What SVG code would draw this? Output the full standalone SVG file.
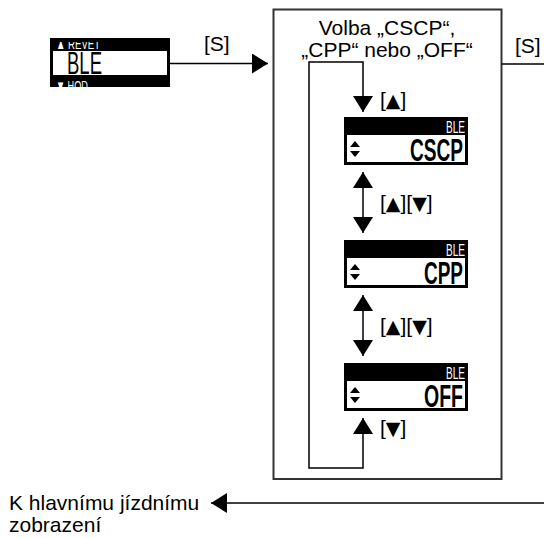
<svg xmlns="http://www.w3.org/2000/svg" width="544" height="538" viewBox="0 0 544 538">
<style>
.t{font-family:"Liberation Sans","DejaVu Sans",sans-serif;font-size:21px;fill:#000}
.s{font-family:"DejaVu Sans",sans-serif;font-size:19px}
.lcd{font-family:"Liberation Sans","DejaVu Sans",sans-serif;fill:#000}
.w{fill:#fff}
.ln{fill:none;stroke:#000;stroke-width:1.5}
.box{fill:#fff;stroke:#333;stroke-width:2}
</style>
<defs>
<marker id="ah" viewBox="0 0 16 20" refX="16" refY="10" markerWidth="16" markerHeight="20" markerUnits="userSpaceOnUse" orient="auto-start-reverse">
<path d="M0,0 L16,10 L0,20 z" fill="#000"/>
</marker>
<clipPath id="c1t"><rect x="50" y="42" width="120" height="8"/></clipPath>
<clipPath id="c1b"><rect x="50" y="76" width="120" height="11"/></clipPath>
<g id="ud">
<polygon points="0,-2 5,-8 10,-2" fill="#000"/>
<polygon points="0,2 5,8 10,2" fill="#000"/>
</g>
</defs>

<g id="main-box">
<rect class="box" x="273.5" y="9.5" width="228" height="469.5"/>
<text class="t" x="387" y="35" text-anchor="middle">Volba „CSCP“,</text>
<text class="t" x="387" y="57" text-anchor="middle">„CPP“ nebo „OFF“</text>
</g>

<g id="connectors">
<line class="ln" x1="170" y1="63.5" x2="268" y2="63.5" marker-end="url(#ah)"/>
<text class="t" x="204" y="51">[S]</text>
<line class="ln" x1="501.5" y1="64" x2="544" y2="64"/>
<text class="t" x="515" y="53">[S]</text>
<line class="ln" x1="544" y1="503" x2="211" y2="503" marker-end="url(#ah)"/>
<path class="ln" d="M363,418 L363,468 L309,468 L309,62 L363,62 L363,112" marker-start="url(#ah)" marker-end="url(#ah)"/>
<text class="t" x="380" y="107">[<tspan class="s">▲</tspan>]</text>
<path class="ln" d="M363,172 L363,233" marker-start="url(#ah)" marker-end="url(#ah)"/>
<text class="t" x="380" y="210">[<tspan class="s">▲</tspan>][<tspan class="s">▼</tspan>]</text>
<path class="ln" d="M363,295 L363,356" marker-start="url(#ah)" marker-end="url(#ah)"/>
<text class="t" x="380" y="333">[<tspan class="s">▲</tspan>][<tspan class="s">▼</tspan>]</text>
<text class="t" x="380" y="435">[<tspan class="s">▼</tspan>]</text>
</g>

<g id="display-ble">
<rect x="50" y="38" width="120" height="49" fill="#000"/>
<rect x="53" y="51" width="114" height="24" fill="#fff"/>
<g clip-path="url(#c1t)"><text class="lcd w" x="56" y="49" font-size="15" textLength="44" lengthAdjust="spacingAndGlyphs">▲ REVET</text></g>
<g clip-path="url(#c1b)"><text class="lcd w" x="56" y="91" font-size="15" textLength="32" lengthAdjust="spacingAndGlyphs">▼ HOD</text></g>
<text class="lcd" x="67" y="74" font-size="31" textLength="35" lengthAdjust="spacingAndGlyphs">BLE</text>
</g>

<g id="display-cscp">
<rect x="344" y="117" width="124" height="48" fill="#000"/>
<rect x="347" y="135" width="118" height="27" fill="#fff"/>
<text class="lcd w" x="446" y="133" font-size="17" textLength="19" lengthAdjust="spacingAndGlyphs">BLE</text>
<use href="#ud" x="350" y="149"/>
<text class="lcd" x="410" y="161" font-size="31" font-weight="bold" textLength="53" lengthAdjust="spacingAndGlyphs">CSCP</text>
</g>

<g id="display-cpp">
<rect x="344" y="240" width="124" height="48" fill="#000"/>
<rect x="347" y="258" width="118" height="27" fill="#fff"/>
<text class="lcd w" x="446" y="256" font-size="17" textLength="19" lengthAdjust="spacingAndGlyphs">BLE</text>
<use href="#ud" x="350" y="272"/>
<text class="lcd" x="424" y="284" font-size="31" font-weight="bold" textLength="39" lengthAdjust="spacingAndGlyphs">CPP</text>
</g>

<g id="display-off">
<rect x="344" y="363" width="124" height="48" fill="#000"/>
<rect x="347" y="381" width="118" height="27" fill="#fff"/>
<text class="lcd w" x="446" y="379" font-size="17" textLength="19" lengthAdjust="spacingAndGlyphs">BLE</text>
<use href="#ud" x="350" y="395"/>
<text class="lcd" x="424" y="407" font-size="31" font-weight="bold" textLength="39" lengthAdjust="spacingAndGlyphs">OFF</text>
</g>

<g id="exit-label">
<text class="t" x="9" y="510">K hlavnímu jízdnímu</text>
<text class="t" x="9" y="532">zobrazení</text>
</g>
</svg>
